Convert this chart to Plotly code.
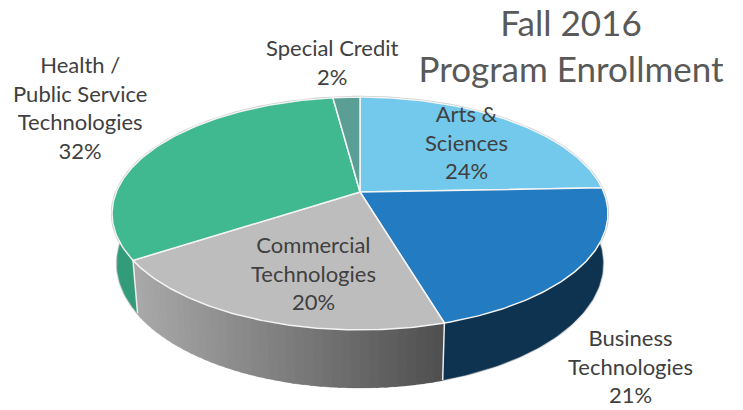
import numpy as np
import plotly.graph_objects as go

categories = ["Arts &<br>Sciences", "Business<br>Technologies", "Commercial<br>Technologies",
              "Health /<br>Public Service<br>Technologies", "Special Credit"]
values = [24.4, 21.0, 20.4, 32.1, 2.1]
label_xy = [(466, 142), (630, 366), (313, 273), (80, 107), (332, 62)]
top_colors = ["#73C9EB", "#237CC1", "#BDBDBD", "#40B890", "#5B9E96"]
side_colors = ["#4A90AC", "#0E3350", None, "#329C7A", "#3F7A72"]

# Perspective-projected disc
CX, CY = 360.0, 192.0
A, B, K = 243.7, 112.5, 0.1845
SX, SY, BOTTOM_Y = 0.98, 1.063, 240.7


def project(theta_deg, sx=1.0, sy=1.0, cy=CY):
    t = np.radians(theta_deg)
    u, v = np.sin(t), np.cos(t)
    w = 1 + K * v
    return CX + sx * A * u / w, cy - sy * B * v / w


def project_bottom(theta_deg):
    return project(theta_deg, SX, SY, BOTTOM_Y)


def grad_color(x):
    f = float(np.clip((x - 139) / (445 - 139), 0, 1))
    g = int(round(168 + (78 - 168) * f))
    return f"rgb({g},{g},{g})"


fig = go.Figure()
total = sum(values)
edges = np.concatenate([[0], np.cumsum(values)]) / total * 360


def add_poly(xs, ys, color, line_color=None, width=0.6, name=""):
    fig.add_trace(go.Scatter(x=xs, y=ys, mode="lines", fill="toself", fillcolor=color,
                             line=dict(color=line_color or color, width=width),
                             hoverinfo="skip", name=name, showlegend=False))


# silhouette outline, beneath everything
ang = np.linspace(0, 360, 361)
xo, yo = project(ang)
xb, yb = project_bottom(ang)
fig.add_trace(go.Scatter(x=xb, y=yb, mode="lines", line=dict(color="#D4D4D4", width=2.5),
                         hoverinfo="skip", showlegend=False))
fig.add_trace(go.Scatter(x=xo, y=yo, mode="lines", line=dict(color="#CDCDCD", width=2.5),
                         hoverinfo="skip", showlegend=False))

# sides
for i in range(len(values)):
    a0, a1 = edges[i], edges[i + 1]
    if side_colors[i] is None:
        steps = np.linspace(a0, a1, 41)
        for s0, s1 in zip(steps[:-1], steps[1:]):
            a = np.array([s0, s1 + 0.6])
            x1, y1 = project(a)
            x2, y2 = project_bottom(a)
            xs = np.r_[x1, x2[::-1]]
            ys = np.r_[y1, y2[::-1]]
            add_poly(xs, ys, grad_color(xs.mean()), width=1.5, name="side")
    else:
        a = np.linspace(a0, a1, 80)
        x1, y1 = project(a)
        x2, y2 = project_bottom(a)
        add_poly(np.r_[x1, x2[::-1]], np.r_[y1, y2[::-1]], side_colors[i], name="side")

# vertical white dividers on the front side
for e in (edges[2], edges[3]):
    x1, y1 = project(e)
    x2, y2 = project_bottom(e)
    fig.add_trace(go.Scatter(x=[x1, x2], y=[y1, y2], mode="lines",
                             line=dict(color="#EDEDED", width=1.5),
                             hoverinfo="skip", showlegend=False))

# top wedges
for i in range(len(values)):
    a = np.linspace(edges[i], edges[i + 1], 120)
    x, y = project(a)
    add_poly(np.r_[CX, x, CX], np.r_[CY, y, CY], top_colors[i], "#F4F4F4", 1.5, categories[i])

# labels
for cat, val, (lx, ly) in zip(categories, values, label_xy):
    fig.add_annotation(x=lx, y=ly, text=f"{cat}<br>{round(val)}%", showarrow=False,
                       font=dict(family="Lato", size=22, color="#404040"), align="center")

fig.update_layout(
    width=743, height=410, margin=dict(l=0, r=0, t=0, b=0),
    paper_bgcolor="white", plot_bgcolor="white", showlegend=False,
    title=dict(text="Fall 2016<br>Program Enrollment", x=571 / 743, y=1 - 36 / 410,
               xanchor="center", yanchor="middle",
               font=dict(family="Lato", size=35, color="#595959")),
    xaxis=dict(range=[0, 743], visible=False, fixedrange=True),
    yaxis=dict(range=[410, 0], visible=False, fixedrange=True),
)
fig.write_html("out.html", config=dict(displayModeBar=False),
               post_script="document.body.style.margin='0';")
